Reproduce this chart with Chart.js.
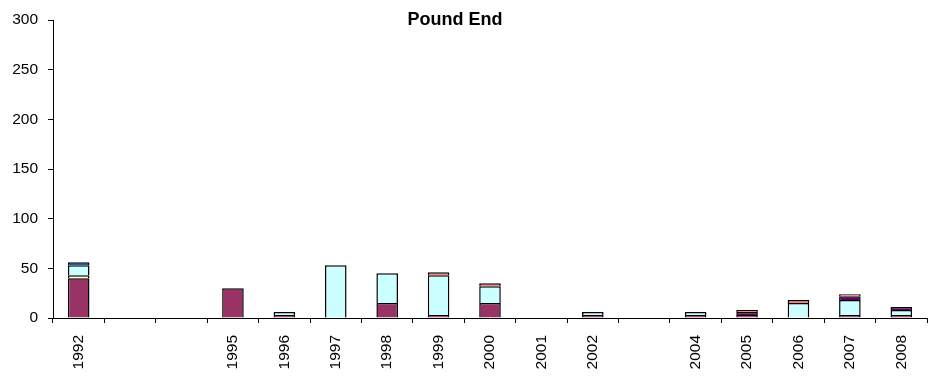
<!DOCTYPE html>
<html>
<head>
<meta charset="utf-8">
<script src="https://cdn.jsdelivr.net/npm/chart.js@4/dist/chart.umd.min.js"></script>
<style>
  html, body { margin: 0; padding: 0; background: #fff; }
  #wrap { width: 935px; height: 378px; }
</style>
</head>
<body>
<div id="wrap"><canvas id="c" width="935" height="378"></canvas></div>
<script>
// Survey years (blank labels for years without a printed label)
const years = ['1992', '', '', '1995', '1996', '1997', '1998', '1999', '2000', '2001', '2002', '', '2004', '2005', '2006', '2007', '2008'];

// Stacked counts per year, bottom to top
const groupB = [40, null, null, 30, 3, null, 15, 3, 15, null, 3, null, 3, 3, null, 3, 3];
const groupC = [3, null, null, null, null, null, null, null, null, null, null, null, null, null, null, null, null];
const groupD = [10, null, null, null, 3, 53, 30, 40, 17, null, 3, null, 3, null, 15, 15, 5];
const groupE = [null, null, null, null, null, null, null, null, null, null, null, null, null, 3, null, 4, 3];
const groupF = [null, null, null, null, null, null, null, 3, 3, null, null, null, null, 2, 3, 2, null];
const groupG = [3, null, null, null, null, null, null, null, null, null, null, null, null, null, null, null, null];

const yTicks = [0, 50, 100, 150, 200, 250, 300];

const FONT = "'Liberation Sans', Arial, sans-serif";

function ds(label, data, color) {
  return {
    label, data,
    backgroundColor: color,
    borderColor: '#000',
    borderWidth: { top: 1.5, left: 1.5, right: 1.5, bottom: 0 },
    borderSkipped: 'start',
    categoryPercentage: 1.0,
    barPercentage: 0.42
  };
}

// Chart heading, placed over the plot
const heading = {
  id: 'heading',
  afterDraw(chart) {
    const ctx = chart.ctx;
    ctx.save();
    ctx.font = "bold 18px " + FONT;
    ctx.fillStyle = '#000';
    ctx.textAlign = 'center';
    ctx.textBaseline = 'alphabetic';
    ctx.fillText('Pound End', 455, 25);
    ctx.restore();
  }
};

new Chart(document.getElementById('c'), {
  type: 'bar',
  data: {
    labels: years,
    datasets: [
      ds('B', groupB, '#993366'),
      ds('C', groupC, '#FFFFCC'),
      ds('D', groupD, '#CCFFFF'),
      ds('E', groupE, '#660066'),
      ds('F', groupF, '#FF8080'),
      ds('G', groupG, '#0066CC')
    ]
  },
  options: {
    responsive: false,
    animation: false,
    layout: { padding: { top: 20, right: 8, left: 0, bottom: 0 } },
    plugins: {
      legend: { display: false },
      title: { display: false },
      tooltip: { enabled: false }
    },
    scales: {
      x: {
        stacked: true,
        afterFit(s) { s.height = 60; },
        grid: { display: true, drawOnChartArea: false, drawTicks: true, tickLength: 5, color: '#000', offset: true },
        border: { display: true, color: '#000', width: 1 },
        ticks: {
          autoSkip: false,
          minRotation: 90, maxRotation: 90,
          padding: 12,
          color: '#000',
          font: { family: FONT, size: 15.5 }
        }
      },
      y: {
        stacked: true,
        min: 0, max: 300,
        afterFit(s) { s.width = 53; },
        afterBuildTicks(s) { s.ticks = yTicks.map(v => ({ value: v })); },
        grid: { display: true, drawOnChartArea: false, drawTicks: true, tickLength: 5, color: '#000' },
        border: { display: true, color: '#000', width: 1 },
        ticks: {
          padding: 10,
          color: '#000',
          font: { family: FONT, size: 15.5 }
        }
      }
    }
  },
  plugins: [heading]
});
</script>
</body>
</html>
